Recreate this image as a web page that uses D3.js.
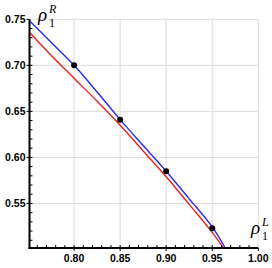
<!DOCTYPE html>
<html><head><meta charset="utf-8">
<script src="https://cdn.jsdelivr.net/npm/d3@7"></script>
<style>body{margin:0;background:#fff}</style>
</head><body>
<script>
const xTicks = [0.80, 0.85, 0.90, 0.95, 1.00];
const yTicks = [0.55, 0.60, 0.65, 0.70, 0.75];
const pointX = [0.80, 0.85, 0.90, 0.95];
const pointY = [0.700, 0.641, 0.585, 0.523];
const blueX = [0.7516, 0.775, 0.80, 0.825, 0.85, 0.875, 0.90, 0.925, 0.95, 0.964];
const blueY = [0.7485, 0.725, 0.700, 0.671, 0.641, 0.613, 0.585, 0.555, 0.5245, 0.5016];
const redX = [0.7516, 0.775, 0.80, 0.825, 0.85, 0.875, 0.90, 0.925, 0.95, 0.962];
const redY = [0.736, 0.711, 0.686, 0.661, 0.635, 0.607, 0.579, 0.549, 0.5185, 0.5016];

const W = 272, H = 268;
const svg = d3.select("body").append("svg").attr("width", W).attr("height", H);
const x = d3.scaleLinear().domain([0.7516, 1.0]).range([29.5, 258.3]);
const y = d3.scaleLinear().domain([0.5016, 0.75]).range([248, 19.3]);

// grid
svg.append("g").selectAll("line").data(xTicks).join("line")
  .attr("x1", d => x(d)).attr("x2", d => x(d)).attr("y1", y(0.75)).attr("y2", y(0.5016))
  .attr("stroke", "#dcdcdc").attr("stroke-width", 1);
svg.append("g").selectAll("line").data(yTicks).join("line")
  .attr("y1", d => y(d)).attr("y2", d => y(d)).attr("x1", x(0.7516)).attr("x2", x(1.0))
  .attr("stroke", "#dcdcdc").attr("stroke-width", 1);

const line = d3.line().curve(d3.curveCatmullRom).x(d => x(d[0])).y(d => y(d[1]));
svg.append("path").datum(redX.map((v, i) => [v, redY[i]]))
  .attr("d", line).attr("fill", "none").attr("stroke", "#f02020").attr("stroke-width", 1.4);
svg.append("path").datum(blueX.map((v, i) => [v, blueY[i]]))
  .attr("d", line).attr("fill", "none").attr("stroke", "#2a2af0").attr("stroke-width", 1.4);

svg.append("g").selectAll("circle").data(pointX).join("circle")
  .attr("cx", d => x(d)).attr("cy", (d, i) => y(pointY[i])).attr("r", 3).attr("fill", "#000");

// axes
const minorX = d3.range(76, 100, 1).map(v => v / 100);
const minorY = d3.range(51, 75, 1).map(v => v / 100);
const ax = svg.append("g");
ax.selectAll("line.mx").data(minorX).join("line")
  .attr("x1", d => x(d)).attr("x2", d => x(d)).attr("y1", y(0.5016)).attr("y2", y(0.5016) - 3)
  .attr("stroke", "#000").attr("stroke-width", 1);
ax.selectAll("line.my").data(minorY).join("line")
  .attr("y1", d => y(d)).attr("y2", d => y(d)).attr("x1", x(0.7516)).attr("x2", x(0.7516) + 3)
  .attr("stroke", "#000").attr("stroke-width", 1);
ax.selectAll("line.Mx").data(xTicks).join("line")
  .attr("x1", d => x(d)).attr("x2", d => x(d)).attr("y1", y(0.5016)).attr("y2", y(0.5016) + 3)
  .attr("stroke", "#000").attr("stroke-width", 1);
ax.selectAll("line.My").data(yTicks).join("line")
  .attr("y1", d => y(d)).attr("y2", d => y(d)).attr("x1", x(0.7516)).attr("x2", x(0.7516) - 3)
  .attr("stroke", "#000").attr("stroke-width", 1);
ax.append("line").attr("x1", x(0.7516)).attr("x2", x(0.7516)).attr("y1", y(0.75)).attr("y2", y(0.5016) + 1)
  .attr("stroke", "#000").attr("stroke-width", 2);
ax.append("line").attr("x1", x(0.7516) - 1).attr("x2", x(1.0)).attr("y1", y(0.5016)).attr("y2", y(0.5016))
  .attr("stroke", "#000").attr("stroke-width", 2);

const fmt = d3.format(".2f");
svg.append("g").selectAll("text").data(xTicks).join("text")
  .attr("x", d => x(d)).attr("y", 262).attr("text-anchor", "middle")
  .attr("font-family", "Liberation Sans, Arial, sans-serif").attr("font-weight", "bold")
  .attr("font-size", 10.5).text(fmt);
svg.append("g").selectAll("text").data(yTicks).join("text")
  .attr("x", 25.5).attr("y", d => y(d)).attr("dy", "0.35em").attr("text-anchor", "end")
  .attr("font-family", "Liberation Sans, Arial, sans-serif").attr("font-weight", "bold")
  .attr("font-size", 10.5).text(fmt);

function rhoLabel(px, py, sup) {
  const g = svg.append("g").attr("font-family", "Liberation Serif, Times New Roman, serif").attr("fill", "#000");
  g.append("text").attr("x", px).attr("y", py).attr("font-size", 19).attr("font-style", "italic").text("ρ");
  g.append("text").attr("x", px + 11).attr("y", py - 8).attr("font-size", 12).attr("font-style", "italic").text(sup);
  g.append("text").attr("x", px + 11).attr("y", py + 6).attr("font-size", 12).text("1");
}
rhoLabel(38, 21, "R");
rhoLabel(251, 234, "L");
</script>
</body></html>
